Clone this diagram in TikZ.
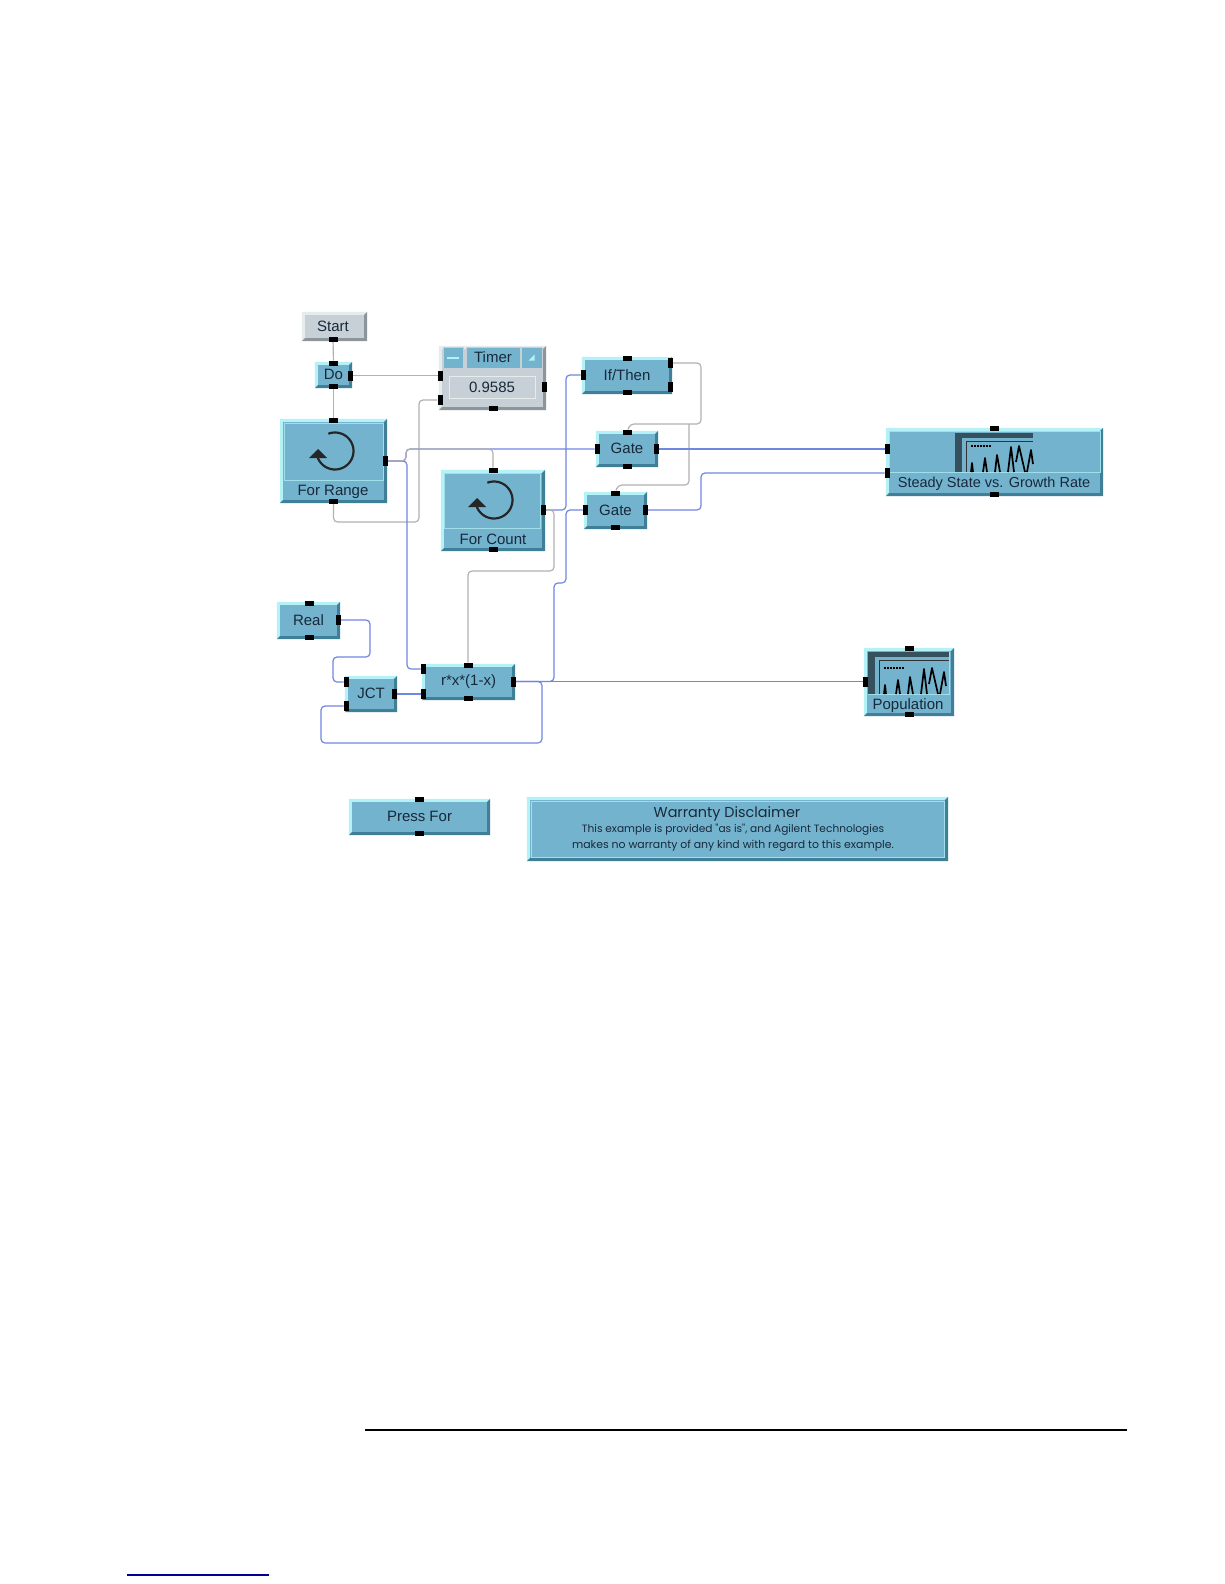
\documentclass[tikz,border=0pt]{standalone}
\usepackage{fontspec}
\usetikzlibrary{patterns}
\setmainfont{Liberation Sans}
\newfontfamily\wfont{Poppins}
\pgfdeclarelayer{wires}
\pgfsetlayers{wires,main}
\definecolor{vbase}{HTML}{74B3CE}
\definecolor{vhi}{HTML}{B4F2F8}
\definecolor{vlo}{HTML}{3F7F98}
\definecolor{gbase}{HTML}{C6D0D6}
\definecolor{ghi}{HTML}{E6ECEE}
\definecolor{glo}{HTML}{8C9599}
\definecolor{vtext}{HTML}{17293A}
\definecolor{wblue}{HTML}{6F86E2}
\definecolor{wgray}{HTML}{B2B2B2}
\tikzset{
  lbl/.style={text=vtext,font=\fontsize{15}{15}\selectfont,inner sep=0pt},
  portbox/.style={fill=black,draw=none,inner sep=0pt,outer sep=0pt},
  hport/.style={portbox,minimum width=9pt,minimum height=5pt},
  vport/.style={portbox,minimum width=5pt,minimum height=10pt},
  bluewire/.style={draw=wblue,line width=1.2pt,rounded corners=4pt},
  graywire/.style={draw=wgray,line width=1.2pt,rounded corners=4pt},
  panel/.style={draw=vhi!70!vbase,line width=0.8pt,fill=vbase},
  icon/.style={draw=black!85,line width=2.2pt},
  hatchfill/.style={fill=black!55!vbase,draw=none},
  peak/.style={draw=black,line width=1.7pt,line join=round}
}
% name, x1,y1,x2,y2, text, base, hi, lo
\newcommand{\bevelblock}[9]{%
  \node[lbl,fill=#7,minimum width={(#4-#2)*1pt},minimum height={(#5-#3)*1pt}] (#1) at ({(#2+#4)/2},{(#3+#5)/2}) {\raisebox{1pt}{#6}};
  \fill[#8] (#1.north west) -- (#1.north east) -- ([shift={(-3,3)}]#1.north east) -- ([shift={(3,3)}]#1.north west) -- ([shift={(3,-3)}]#1.south west) -- (#1.south west) -- cycle;
  \fill[#9] (#1.south east) -- (#1.north east) -- ([shift={(-3,3)}]#1.north east) -- ([shift={(-3,-3)}]#1.south east) -- ([shift={(3,-3)}]#1.south west) -- (#1.south west) -- cycle;
}
\newcommand{\vblock}[6]{\bevelblock{#1}{#2}{#3}{#4}{#5}{#6}{vbase}{vhi}{vlo}}
\newcommand{\hp}[3]{\node[hport] (#1) at (#2,#3) {};}
\newcommand{\vp}[3]{\node[vport] (#1) at (#2,#3) {};}
\newcommand{\loopicon}[2]{%
  \draw[icon] plot[domain=-111:158,samples=40,smooth] ({#1+18.5*cos(\x)},{#2+18.5*sin(\x)});
  \fill[black!85] (#1-17,#2-2) -- (#1-26,#2+7) -- (#1-8,#2+7) -- cycle;
}
% x of hatch, bottom, width, top
\newcommand{\ploticon}[4]{%
  \begin{scope}[shift={(#1,#4)}]
    \fill[hatchfill] (0,0) rectangle (#3,5);
    \fill[hatchfill] (0,0) rectangle (7,#2-#4);
    \draw[black!80,line width=1pt] (#3,8) -- (11,8) -- (11,#2-#4);
    \draw[black,line width=1.6pt,dash pattern=on 2pt off 1pt] (16,{#2-#4-26}) -- (36,{#2-#4-26});
    \draw[peak] (16,#2-#4) -- (17,{#2-#4-9}) -- (18,#2-#4);
    \draw[peak] (28,#2-#4) -- (30,{#2-#4-14}) -- (32,#2-#4);
    \draw[peak] (40,#2-#4) -- (42,{#2-#4-17}) -- (45,#2-#4);
    \draw[peak] (53,#2-#4) -- (56,{#2-#4-25}) -- (59,#2-#4);
    \draw[peak] (61,{#2-#4-10}) -- (64,{#2-#4-26}) -- (70,#2-#4);
    \draw[peak] (72,#2-#4) -- (76,{#2-#4-22}) -- (78,{#2-#4-8});
  \end{scope}
}
\begin{document}
\begin{tikzpicture}[x=1pt,y=-1pt]
\useasboundingbox (0,0) rectangle (1224,1584);
\begin{pgfonlayer}{wires}
  \fill[white] (0,0) rectangle (1224,1584);
\end{pgfonlayer}

% blocks
\bevelblock{start}{302}{312}{367}{341}{\hspace*{-3pt}Start}{gbase}{ghi}{glo}
\vblock{do}{315}{362}{352}{388}{Do}
\bevelblock{timer}{439}{346}{546}{410}{}{gbase}{ghi}{glo}
\node[fill=vbase,draw=gbase,line width=.6pt,minimum width=20pt,minimum height=21pt,inner sep=0] (tmin) at (453,357.5) {};
\node[lbl,fill=vbase,draw=gbase,line width=.6pt,minimum width=54pt,minimum height=21pt] (ttitle) at (493,357.5) {Timer};
\node[fill=vbase,draw=gbase,line width=.6pt,minimum width=21pt,minimum height=21pt,inner sep=0] (tmax) at (531.5,357.5) {};
\fill[vhi] ([shift={(-6,-1)}]tmin.center) rectangle ([shift={(6,1)}]tmin.center);
\fill[vhi] ([shift={(3,-3)}]tmax.center) -- ([shift={(3,3)}]tmax.center) -- ([shift={(-3,3)}]tmax.center) -- cycle;
\node[lbl,fill=gbase,draw=ghi,line width=.8pt,minimum width=86pt,minimum height=22pt] (tval) at (492,387.5) {0.9585};

\vblock{fr}{280}{419}{387}{503}{}
\node[panel,minimum width=99pt,minimum height=57pt,inner sep=0] (frp) at (333.5,451.5) {};
\node[lbl] (frl) at (333,492) {For Range};
\loopicon{335}{451}

\vblock{fc}{441}{470}{545}{551}{}
\node[panel,minimum width=96pt,minimum height=55pt,inner sep=0] (fcp) at (492,500.5) {};
\node[lbl] (fcl) at (493,539) {For Count};
\loopicon{494}{500}

\vblock{ift}{582}{357}{672}{394}{If/Then}
\vblock{g1}{596}{431}{658}{467}{Gate}
\vblock{g2}{584}{492}{647}{529}{Gate}

\vblock{st}{886}{428}{1103}{496}{}
\node[panel,minimum width=211pt,minimum height=41pt,inner sep=0] (stp) at (994.5,452) {};
\ploticon{955}{472}{78}{433}
\node[lbl,font=\fontsize{14.5}{15}\selectfont] (stl) at (994,484) {Steady State vs. Growth Rate};

\vblock{real}{277}{602}{340}{639}{Real}
\vblock{jct}{345}{676}{397}{712}{JCT}
\vblock{rx}{422}{664}{515}{700}{r*x*(1-x)}

\vblock{pop}{864}{648}{954}{716}{}
\node[panel,minimum width=81pt,minimum height=42pt,inner sep=0] (popp) at (909,673) {};
\ploticon{868}{694}{81}{652}
\node[lbl] (popl) at (908,705.5) {Population};

\vblock{press}{349}{799}{490}{835}{Press For}
\vblock{warr}{527}{797}{948}{861}{}
\node[panel,minimum width=413pt,minimum height=56pt,inner sep=0] (warrt) at (737.5,829) {};
\node[text=vtext,inner sep=0,font=\wfont\fontsize{14.4}{14.4}\selectfont] (w1) at (727,814) {Warranty Disclaimer};
\node[text=vtext,inner sep=0,font=\wfont\fontsize{10.6}{10.6}\selectfont] (w2) at (733,830) {This example is provided "as is", and Agilent Technologies};
\node[text=vtext,inner sep=0,font=\wfont\fontsize{10.9}{10.9}\selectfont] (w3) at (733,846) {makes no warranty of any kind with regard to this example.};

% ports
\hp{start-b}{333}{339}
\hp{do-t}{333.5}{363} \hp{do-b}{333.5}{386} \vp{do-r}{350}{375.5}
\vp{ti-l1}{440}{375.5} \vp{ti-l2}{440}{400} \vp{ti-r}{544}{387} \hp{ti-b}{493}{408}
\hp{fr-t}{333.5}{420} \vp{fr-r}{385}{461} \hp{fr-b}{333.5}{501}
\hp{fc-t}{493}{470} \vp{fc-r}{543}{510} \hp{fc-b}{493}{549}
\vp{if-l}{583}{375} \vp{if-r1}{670}{363} \vp{if-r2}{670}{387} \hp{if-t}{627}{358} \hp{if-b}{627}{392}
\vp{g1-l}{597}{449} \vp{g1-r}{656}{449} \hp{g1-t}{627}{432} \hp{g1-b}{627}{466}
\vp{g2-l}{585}{510} \vp{g2-r}{645}{510} \hp{g2-t}{615}{493} \hp{g2-b}{615}{527}
\vp{st-l1}{887}{449} \vp{st-l2}{887}{473} \hp{st-t}{994.5}{428} \hp{st-b}{994.5}{494}
\hp{re-t}{309}{603} \hp{re-b}{309}{637} \vp{re-r}{338}{620}
\vp{j-l1}{346}{682} \vp{j-l2}{346}{706} \vp{j-r}{394}{694}
\hp{rx-t}{468}{665} \hp{rx-b}{468}{698} \vp{rx-l1}{423}{669} \vp{rx-l2}{423}{694} \vp{rx-r}{513.5}{681.5}
\hp{po-t}{909}{648} \hp{po-b}{909}{714} \vp{po-l}{865}{681.5}
\hp{pr-t}{419}{799} \hp{pr-b}{419}{833}

% connectors
\begin{pgfonlayer}{wires}
  \draw[graywire] (start-b) -- (do-t);
  \draw[graywire] (do-b) -- (fr-t);
  \draw[graywire] (do-r) -- (ti-l1);
  \draw[graywire] (fr-b) -- (333.5,522) -- (419,522) -- (419,400) -- (ti-l2);
  \draw[bluewire] (fr-r) -- (406,461) -- (406,449) -- (g1-l);
  \draw[bluewire] (fr-r) -- (407,461) -- (407,669) -- (rx-l1);
  \draw[graywire] (fr-r) -- (406,461) -- (406,449) -- (493,449) -- (fc-t);
  \draw[bluewire] (fc-r) -- (566,510) -- (566,375) -- (if-l);
  \draw[graywire] (fc-r) -- (554,510) -- (554,571) -- (468,571) -- (rx-t);
  \draw[graywire] (if-r1) -- (701,363) -- (701,424) -- (630,424) -- (g1-t);
  \draw[graywire] (689,424) -- (689,485) -- (618,485) -- (g2-t);
  \draw[bluewire] (g1-r) -- (st-l1);
  \draw[bluewire] (g2-r) -- (701,510) -- (701,473) -- (st-l2);
  \draw[bluewire] (rx-r) -- (po-l);
  \draw[bluewire] (rx-r) -- (554,681.5) -- (554,583) -- (566,583) -- (566,510) -- (g2-l);
  \draw[bluewire] (rx-r) -- (542,681.5) -- (542,743) -- (321,743) -- (321,706) -- (j-l2);
  \draw[bluewire] (re-r) -- (370,620) -- (370,657) -- (333,657) -- (333,682) -- (j-l1);
  \draw[bluewire] (j-r) -- (rx-l2);
\end{pgfonlayer}

% page rules
\coordinate (ra) at (365,1430);
\coordinate (rb) at (1127,1430);
\draw[black,line width=2pt] (ra) -- (rb);
\coordinate (la) at (127,1575);
\coordinate (lb) at (269,1575);
\draw[blue!60!black,line width=1.3pt] (la) -- (lb);
\end{tikzpicture}
\end{document}
